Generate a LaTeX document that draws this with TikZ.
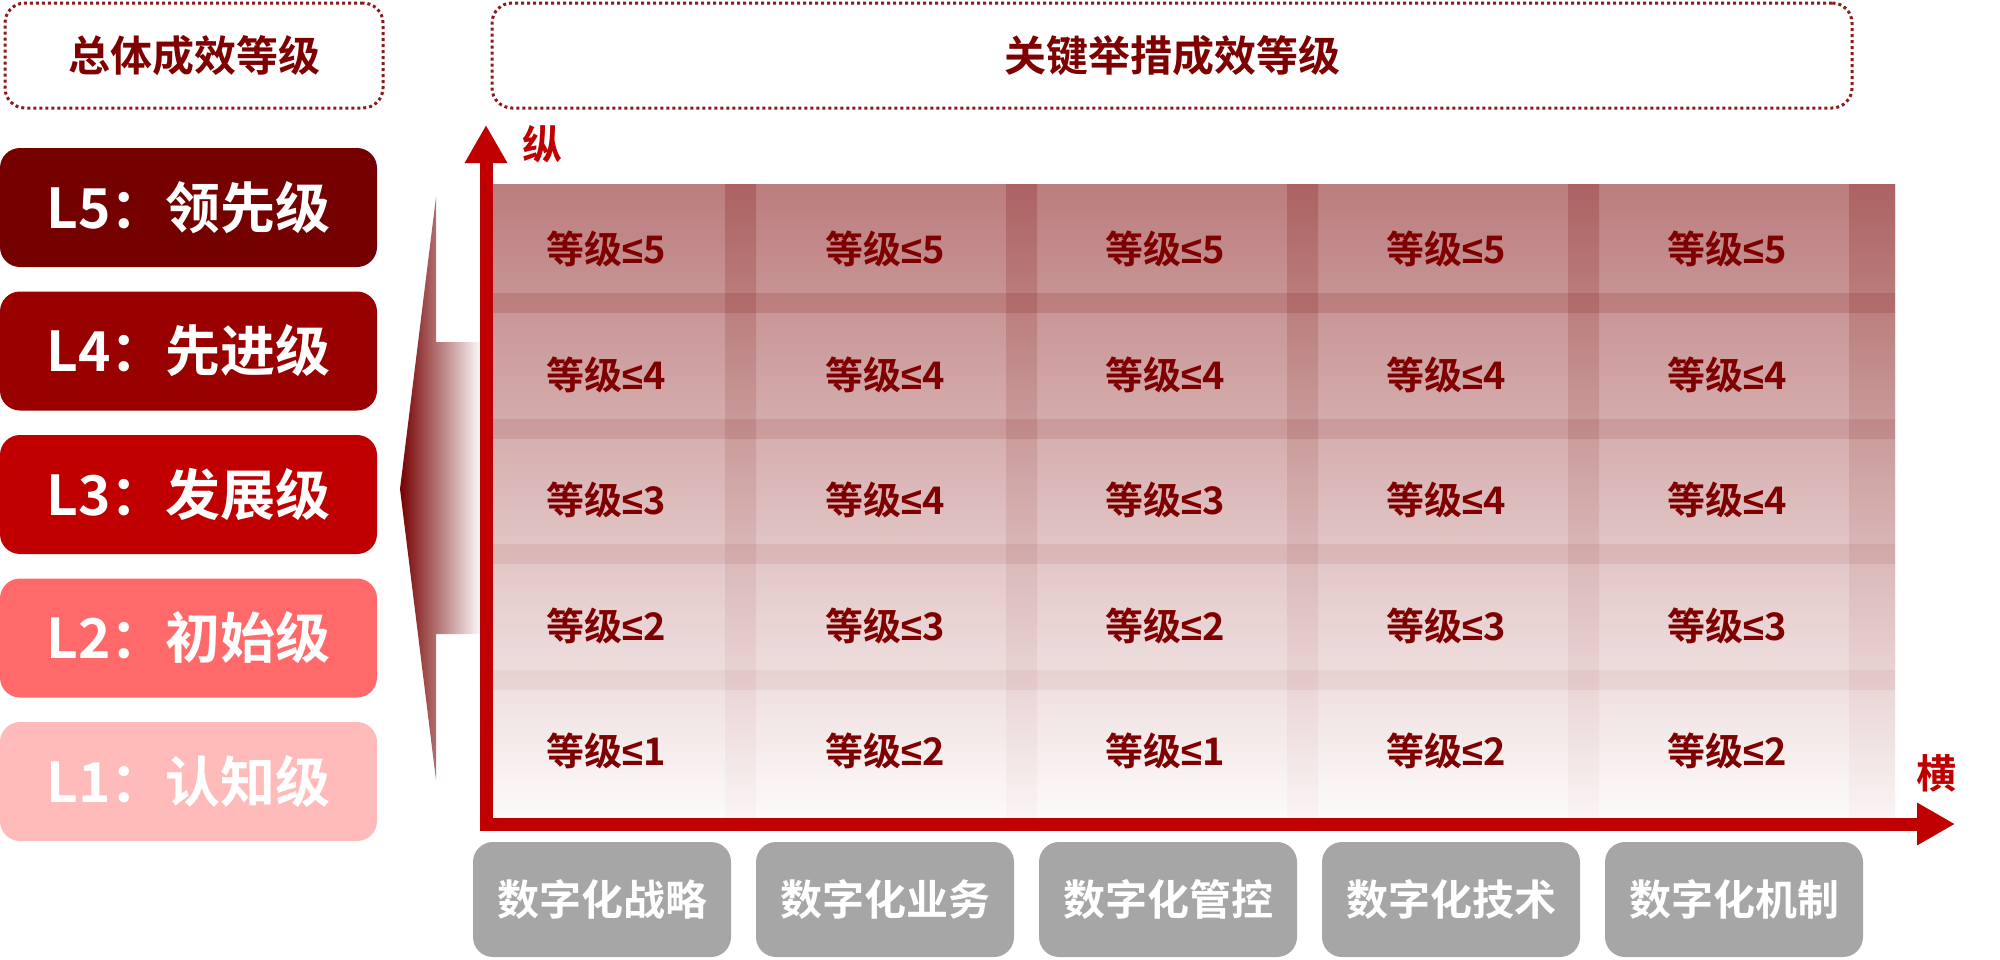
\documentclass[tikz,border=0pt]{standalone}
\usepackage{fontspec}
\setmainfont{Noto Sans CJK SC}[BoldFont={Noto Sans CJK SC Bold}]
\newfontfamily\symfont{Liberation Sans}
\newcommand\lesym{{\symfont ≤}}
\usepackage{tikz}
\usetikzlibrary{arrows.meta}

\definecolor{txtred}{HTML}{7F0000}
\definecolor{hdred}{HTML}{8B1A1A}
\definecolor{axisred}{HTML}{C00000}
\definecolor{lvfive}{HTML}{740000}
\definecolor{lvfour}{HTML}{990000}
\definecolor{lvthree}{HTML}{C00000}
\definecolor{lvtwo}{HTML}{FF6969}
\definecolor{lvone}{HTML}{FFBABA}
\definecolor{catgray}{HTML}{A6A6A6}
\definecolor{gridtop}{HTML}{BC7D7E}
\definecolor{gridbot}{HTML}{FDFAFA}
\definecolor{bandtop}{HTML}{AC6262}
\definecolor{bandbot}{HTML}{FAF4F4}
\definecolor{chevdark}{HTML}{750000}

\tikzset{
  headbox/.style={draw=hdred, line width=1.5pt, dash pattern=on 1.5pt off 1.5pt, rounded corners=10pt, text=txtred, font=\fontsize{21pt}{21pt}\selectfont\bfseries},
  levelbox/.style={rounded corners=10pt, minimum width=188.5pt, minimum height=59.5pt, inner sep=0pt, text=white, font=\fontsize{27.5pt}{27.5pt}\selectfont\bfseries},
  catbox/.style={fill=catgray, rounded corners=10pt, minimum width=129pt, minimum height=57.5pt, inner sep=0pt, text=white, font=\fontsize{21pt}{21pt}\selectfont\bfseries},
  cell/.style={inner sep=0pt, text=txtred, font=\fontsize{19pt}{19pt}\selectfont\bfseries},
  axis/.style={draw=axisred, line width=6.5pt, line join=miter, {Triangle[length=19pt,width=20pt]}-{Triangle[length=19pt,width=20pt]}},
  axislabel/.style={inner sep=0pt, text=axisred, font=\fontsize{20pt}{20pt}\selectfont\bfseries},
}

\begin{document}
\begin{tikzpicture}[x=0.5pt,y=0.5pt,yscale=-1,xscale=1]
\useasboundingbox (0,0) rectangle (2000,959);

%Shape: Grid background
\shade[top color=gridtop, bottom color=gridbot] (492,184) rectangle (1895,817);
%Shape: Column bands
\shade[top color=bandtop, bottom color=bandbot] (725,184) rectangle (756,817);
\shade[top color=bandtop, bottom color=bandbot] (1006,184) rectangle (1037,817);
\shade[top color=bandtop, bottom color=bandbot] (1287,184) rectangle (1318,817);
\shade[top color=bandtop, bottom color=bandbot] (1568,184) rectangle (1599,817);
\shade[top color=bandtop, bottom color=bandbot] (1849,184) rectangle (1895,817);
%Shape: Row bands
\fill[chevdark, fill opacity=0.14] (492,293) rectangle (1895,313);
\fill[chevdark, fill opacity=0.10] (492,419) rectangle (1895,439);
\fill[chevdark, fill opacity=0.07] (492,544) rectangle (1895,564);
\fill[chevdark, fill opacity=0.05] (492,670) rectangle (1895,690);

%Shape: Left arrow
\shade[left color=chevdark, right color=white] (400,489) -- (436,197) -- (436,342) -- (482,342) -- (482,634) -- (436,634) -- (436,780) -- cycle;

%Straight Lines: axes
\coordinate (ytop) at (486,125);
\coordinate (origin) at (486,824);
\coordinate (xend) at (1955,824);
\draw[axis] (ytop) -- (origin) -- (xend);

% Text Node
\node[axislabel] (zong) at (542,144) {纵};
% Text Node
\node[axislabel] (heng) at (1936,773) {横};

% Header boxes
\node[headbox, minimum width=189pt, minimum height=52.5pt] (overall) at (194,55.5) {总体成效等级};
\node[headbox, minimum width=680pt, minimum height=52.5pt] (keyact) at (1172,55.5) {关键举措成效等级};

% Level boxes
\node[levelbox, fill=lvfive] (lfive) at (188.5,207.5) {L5：领先级};
\node[levelbox, fill=lvfour] (lfour) at (188.5,351) {L4：先进级};
\node[levelbox, fill=lvthree] (lthree) at (188.5,494.5) {L3：发展级};
\node[levelbox, fill=lvtwo] (ltwo) at (188.5,638) {L2：初始级};
\node[levelbox, fill=lvone] (lone) at (188.5,781.5) {L1：认知级};

% Text Node: row 1
\node[cell] (c11) at (606,249) {等级\lesym 5};
\node[cell] (c12) at (885,249) {等级\lesym 5};
\node[cell] (c13) at (1165,249) {等级\lesym 5};
\node[cell] (c14) at (1446,249) {等级\lesym 5};
\node[cell] (c15) at (1727,249) {等级\lesym 5};
% Text Node: row 2
\node[cell] (c21) at (606,375) {等级\lesym 4};
\node[cell] (c22) at (885,375) {等级\lesym 4};
\node[cell] (c23) at (1165,375) {等级\lesym 4};
\node[cell] (c24) at (1446,375) {等级\lesym 4};
\node[cell] (c25) at (1727,375) {等级\lesym 4};
% Text Node: row 3
\node[cell] (c31) at (606,500) {等级\lesym 3};
\node[cell] (c32) at (885,500) {等级\lesym 4};
\node[cell] (c33) at (1165,500) {等级\lesym 3};
\node[cell] (c34) at (1446,500) {等级\lesym 4};
\node[cell] (c35) at (1727,500) {等级\lesym 4};
% Text Node: row 4
\node[cell] (c41) at (606,626) {等级\lesym 2};
\node[cell] (c42) at (885,626) {等级\lesym 3};
\node[cell] (c43) at (1165,626) {等级\lesym 2};
\node[cell] (c44) at (1446,626) {等级\lesym 3};
\node[cell] (c45) at (1727,626) {等级\lesym 3};
% Text Node: row 5
\node[cell] (c51) at (606,751) {等级\lesym 1};
\node[cell] (c52) at (885,751) {等级\lesym 2};
\node[cell] (c53) at (1165,751) {等级\lesym 1};
\node[cell] (c54) at (1446,751) {等级\lesym 2};
\node[cell] (c55) at (1727,751) {等级\lesym 2};

% Category boxes
\node[catbox] (strategy) at (602,899.5) {数字化战略};
\node[catbox] (business) at (885,899.5) {数字化业务};
\node[catbox] (control) at (1168,899.5) {数字化管控};
\node[catbox] (technology) at (1451,899.5) {数字化技术};
\node[catbox] (mechanism) at (1734,899.5) {数字化机制};
\end{tikzpicture}
\end{document}
